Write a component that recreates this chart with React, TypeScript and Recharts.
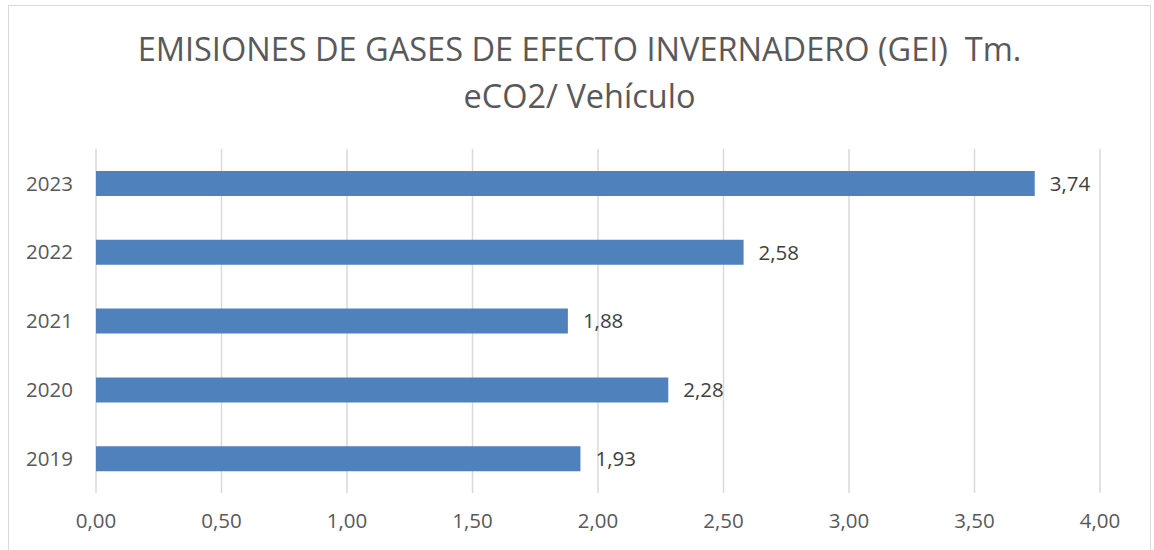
import React from 'react';
import { BarChart, Bar, XAxis, YAxis, CartesianGrid, LabelList } from 'recharts';

const years = ['2023', '2022', '2021', '2020', '2019'];
const values = [3.74, 2.58, 1.88, 2.28, 1.93];
const xTicks = [0, 0.5, 1, 1.5, 2, 2.5, 3, 3.5, 4];
const titleLines = ['EMISIONES DE GASES DE EFECTO INVERNADERO (GEI)  Tm.', 'eCO2/ Vehículo'];

const data = years.map((y, i) => ({ year: y, value: values[i] }));

const FONT = '"Open Sans", sans-serif';
const TEXT = '#595959';

const fmt = (v: number) => v.toFixed(2).replace('.', ',');

export default function App() {
  return (
    <div
      style={{
        position: 'absolute',
        left: 8,
        top: 5,
        width: 1143,
        height: 546,
        border: '1px solid #D9D9D9',
        boxSizing: 'border-box',
        background: '#fff',
        fontFamily: FONT,
      }}
    >
      <div
        style={{
          position: 'absolute',
          left: 0,
          top: 19,
          width: '100%',
          textAlign: 'center',
          color: TEXT,
          fontSize: 32.5,
          lineHeight: '47px',
          whiteSpace: 'pre',
        }}
      >
        {titleLines.map((t, i) => (
          <div key={i}>{t}</div>
        ))}
      </div>
      <div style={{ position: 'absolute', left: -1, top: -1 }}>
        <BarChart
          width={1143}
          height={546}
          data={data}
          layout="vertical"
          margin={{ top: 144, right: 51, bottom: 28, left: 0 }}
          barCategoryGap="32%"
        >
          <CartesianGrid horizontal={false} stroke="#D9D9D9" strokeWidth={1.5} />
          <XAxis
            type="number"
            domain={[0, 4]}
            ticks={xTicks}
            tickFormatter={fmt}
            axisLine={false}
            tickLine={false}
            tickMargin={14}
            height={30}
            tick={{ fill: TEXT, fontSize: 20.5, fontFamily: FONT }}
            interval={0}
          />
          <YAxis
            type="category"
            dataKey="year"
            width={88}
            axisLine={false}
            tickLine={false}
            tickMargin={17}
            tick={{ fill: TEXT, fontSize: 20.5, fontFamily: FONT }}
          />
          <Bar dataKey="value" fill="#4F81BD" isAnimationActive={false}>
            <LabelList
              dataKey="value"
              position="right"
              offset={15}
              formatter={(v: any) => fmt(Number(v))}
              style={{ fill: '#404040', fontSize: 20.5, fontFamily: FONT }}
            />
          </Bar>
        </BarChart>
      </div>
    </div>
  );
}
